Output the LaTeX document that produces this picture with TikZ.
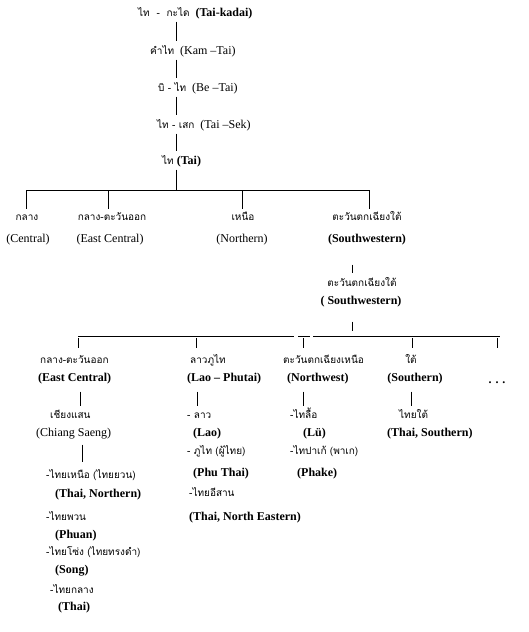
\documentclass[tikz,border=0pt]{standalone}
\usepackage{fontspec}
\setmainfont{Liberation Serif}
\newfontfamily\thaifont[Script=Thai]{Loma}
\usetikzlibrary{calc}
\newcommand{\thtxt}[1]{{\thaifont\fontsize{10}{12}\selectfont #1}}

\tikzset{
  lbl/.style={inner sep=0pt, text height=8pt, text depth=3pt, font=\fontsize{12}{14}\selectfont},
  th/.style={lbl, font=\thaifont\fontsize{10}{12}\selectfont},
  link/.style={line width=1pt, shorten <=2pt, shorten >=5pt},
  drop/.style={line width=1pt, shorten >=3pt},
  sub/.style={line width=1pt, shorten <=7pt, shorten >=4pt},
}

\begin{document}
\begin{tikzpicture}[x=1pt, y=-1pt]
    \useasboundingbox (0,0) rectangle (528,632);

    % Tai-Kadai chain
    \node[lbl, anchor=west] (tk)  at (138,14)  {\thtxt{ไท\ \ -\ \ กะได}\ \ \textbf{(Tai-kadai)}};
    \node[lbl, anchor=west] (kt)  at (150,52)  {\thtxt{คำไท}\ \ (Kam –Tai)};
    \node[lbl, anchor=west] (bt)  at (158,89)  {\thtxt{บิ - ไท}\ \ (Be –Tai)};
    \node[lbl, anchor=west] (ts)  at (157,126) {\thtxt{ไท - เสก}\ \ (Tai –Sek)};
    \node[lbl, anchor=west] (tai) at (162,162) {\thtxt{ไท} \textbf{(Tai)}};

    \coordinate (spine) at (176,0);
    \draw[link] (tk.south -| spine) -- (kt.north -| spine);
    \draw[link] (kt.south -| spine) -- (bt.north -| spine);
    \draw[link] (bt.south -| spine) -- (ts.north -| spine);
    \draw[link] (ts.south -| spine) -- (tai.north -| spine);

    % First split
    \path (26,190) coordinate (b1a) (108,190) coordinate (b1b)
          (242,190) coordinate (b1c) (369,190) coordinate (b1d);
    \draw[line width=1pt, shorten <=2pt] (tai.south -| spine) -- (b1a -| spine);
    \draw[line width=1pt] (b1a) -- (b1d);

    \node[th]  (cen)  at (27,218)  {กลาง};
    \node[lbl] (cenE) at (28,240)  {(Central)};
    \node[th]  (ec)   at (112,218) {กลาง-ตะวันออก};
    \node[lbl] (ecE)  at (110,240) {(East Central)};
    \node[th]  (nor)  at (243,218) {เหนือ};
    \node[lbl] (norE) at (242,240) {(Northern)};
    \node[th]  (sw)   at (367,218) {ตะวันตกเฉียงใต้};
    \node[lbl] (swE)  at (367,240) {\textbf{(Southwestern)}};

    \foreach \c/\n in {b1a/cen, b1b/ec, b1c/nor, b1d/sw}
        \draw[drop] (\c) -- (\c |- \n.north);

    % Southwestern
    \coordinate (swx) at (352,0);
    \node[th]  (sw2)  at (362,284) {ตะวันตกเฉียงใต้};
    \node[lbl] (sw2E) at (361,302) {\textbf{( Southwestern)}};
    \draw[line width=1pt, shorten <=19pt, shorten >=5pt] (swE.south -| swx) -- (sw2.north -| swx);

    % Second split
    \path (78,336) coordinate (b2a) (196,336) coordinate (b2b) (303,336) coordinate (b2c)
          (412,336) coordinate (b2d) (497,336) coordinate (b2e) (500,336) coordinate (b2end);
    \draw[line width=1pt, shorten <=14pt, shorten >=5pt] (sw2E.south -| swx) -- (b2a -| swx);
    \draw[line width=1pt] (b2a) -- (294,336) (298,336) -- (310,336) (313,336) -- (b2end);
    \foreach \c in {b2a, b2b, b2c, b2d, b2e}
        \draw[line width=1pt] ([yshift=-2pt]\c) -- ([yshift=-12pt]\c);

    \node[th,  anchor=west] (ec2)  at (40,361)  {กลาง-ตะวันออก};
    \node[lbl, anchor=west] (ec2E) at (38,379)  {\textbf{(East Central)}};
    \node[th,  anchor=west] (lp)   at (190,361) {ลาวภูไท};
    \node[lbl, anchor=west] (lpE)  at (187,379) {\textbf{(Lao – Phutai)}};
    \node[th,  anchor=west] (nw)   at (283,361) {ตะวันตกเฉียงเหนือ};
    \node[lbl, anchor=west] (nwE)  at (287,379) {\textbf{(Northwest)}};
    \node[th]               (so)   at (411,361) {ใต้};
    \node[lbl]              (soE)  at (415,379) {\textbf{(Southern)}};
    \node[lbl]              (more) at (497,381) {\textbf{. . .}};

    % Third level
    \node[th,  anchor=west] (cs)   at (50,416)  {เชียงแสน};
    \node[lbl, anchor=west] (csE)  at (36,434)  {(Chiang Saeng)};
    \node[th,  anchor=west] (lao)  at (187,416) {- ลาว};
    \node[lbl, anchor=west] (laoE) at (193,434) {\textbf{(Lao)}};
    \node[th,  anchor=west] (lu)   at (290,416) {-ไทลื้อ};
    \node[lbl, anchor=west] (luE)  at (303,434) {\textbf{(Lü)}};
    \node[th,  anchor=west] (tso)  at (399,416) {ไทยใต้};
    \node[lbl, anchor=west] (tsoE) at (387,434) {\textbf{(Thai, Southern)}};

    \path (80,0) coordinate (xa) (197,0) coordinate (xb) (303,0) coordinate (xc) (411,0) coordinate (xd);
    \draw[sub] (ec2E.south -| xa) -- (cs.north -| xa);
    \draw[sub] (lpE.south -| xb)  -- (lao.north -| xb);
    \draw[sub] (nwE.south -| xc)  -- (lu.north -| xc);
    \draw[sub] (soE.south -| xd)  -- (tso.north -| xd);

    % Lists
    \node[th,  anchor=west] (pt)   at (187,452) {- ภูไท (ผู้ไทย)};
    \node[lbl, anchor=west] (ptE)  at (193,474) {\textbf{(Phu Thai)}};
    \node[th,  anchor=west] (is)   at (189,494) {-ไทยอีสาน};
    \node[lbl, anchor=west] (isE)  at (189,518) {\textbf{(Thai, North Eastern)}};

    \node[th,  anchor=west] (pk)   at (290,452) {-ไทปาเก้ (พาเก)};
    \node[lbl, anchor=west] (pkE)  at (297,474) {\textbf{(Phake)}};

    \node[th,  anchor=west] (tn)   at (46,476)  {-ไทยเหนือ (ไทยยวน)};
    \node[lbl, anchor=west] (tnE)  at (55,495)  {\textbf{(Thai, Northern)}};
    \node[th,  anchor=west] (ph)   at (46,518)  {-ไทยพวน};
    \node[lbl, anchor=west] (phE)  at (55,536)  {\textbf{(Phuan)}};
    \node[th,  anchor=west] (sg)   at (46,553)  {-ไทยโซ่ง (ไทยทรงดำ)};
    \node[lbl, anchor=west] (sgE)  at (55,571)  {\textbf{(Song)}};
    \node[th,  anchor=west] (tc)   at (50,591)  {-ไทยกลาง};
    \node[lbl, anchor=west] (tcE)  at (58,608)  {\textbf{(Thai)}};

    \coordinate (xe) at (82,0);
    \draw[line width=1pt, shorten <=5pt, shorten >=8pt] (csE.south -| xe) -- (tn.north -| xe);
\end{tikzpicture}
\end{document}
